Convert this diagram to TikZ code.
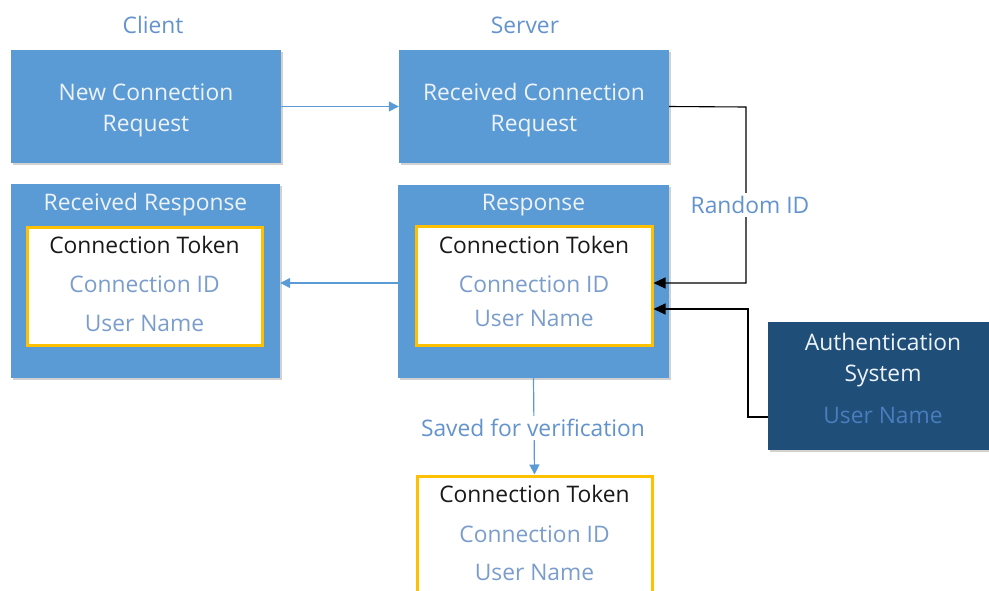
\documentclass[tikz,border=0pt]{standalone}
\usepackage{fontspec}
\setmainfont{Open Sans}
\usetikzlibrary{arrows.meta,shadows}
\definecolor{boxblue}{HTML}{5B9BD5}
\definecolor{darkblue}{HTML}{1F4E79}
\definecolor{tokyellow}{HTML}{FFC000}
\definecolor{lbltext}{HTML}{6393CC}
\definecolor{idtext}{HTML}{7A9DCC}
\definecolor{authtext}{HTML}{4A7DBE}
\definecolor{boxtext}{HTML}{EEF3FA}
\tikzset{
  bluebox/.style={rectangle, fill=boxblue, draw=none, inner sep=0pt,
    drop shadow={shadow xshift=1.5pt, shadow yshift=-1.5pt, opacity=0.18, fill=black}},
  tokbox/.style={rectangle, fill=white, draw=tokyellow, line width=3pt, inner sep=0pt},
  authbox/.style={rectangle, fill=darkblue, draw=none, inner sep=0pt,
    drop shadow={shadow xshift=1.5pt, shadow yshift=-1.5pt, opacity=0.18, fill=black}},
  txt/.style={font=\fontsize{22.8}{31}\selectfont, inner sep=0pt, align=center},
  wtxt/.style={txt, text=boxtext},
  lbl/.style={txt, text=lbltext},
  tok/.style={txt, text=black!90},
  idt/.style={txt, text=idtext},
  blueline/.style={draw=boxblue, line width=1.2pt, -{Triangle[length=10pt,width=10pt]}},
  blackline/.style={draw=black, line width=1.1pt, -{Triangle[length=12pt,width=11pt]}},
}
\begin{document}
\begin{tikzpicture}[x=1pt,y=-1pt]
\useasboundingbox (0,0) rectangle (989,590);

% headers
\node[lbl] (client) at (153,25) {Client};
\node[lbl] (server) at (525,25) {Server};

% top boxes
\node[bluebox, minimum width=270pt, minimum height=113pt] (newreq) at (146,106.5) {};
\node[wtxt] (newreqt) at (146,110.5) {New Connection\\Request};
\node[bluebox, minimum width=270pt, minimum height=113pt] (recreq) at (534,106.5) {};
\node[wtxt] (recreqt) at (534,110.5) {Received Connection\\Request};

% received response
\node[bluebox, minimum width=269pt, minimum height=194pt] (recresp) at (145.5,281) {};
\node[wtxt] (recrespt) at (145.5,205) {Received Response};
\node[tokbox, minimum width=235pt, minimum height=118pt] (tok1) at (144.5,286) {};
\node[tok] (tok1a) at (144.5,245) {Connection Token};
\node[idt] (tok1b) at (144.5,284) {Connection ID};
\node[idt] (tok1c) at (144.5,323) {User Name};

% response
\node[bluebox, minimum width=271pt, minimum height=193pt] (resp) at (533.5,281.5) {};
\node[wtxt] (respt) at (533.5,205) {Response};
\node[tokbox, minimum width=236pt, minimum height=119pt] (tok2) at (534,285.5) {};
\node[tok] (tok2a) at (534,245) {Connection Token};
\node[idt] (tok2b) at (534,284) {Connection ID};
\node[idt] (tok2c) at (534,318) {User Name};

% saved token
\node[tokbox, minimum width=235pt, minimum height=140pt] (tok3) at (534.5,546) {};
\node[tok] (tok3a) at (534.5,494) {Connection Token};
\node[idt] (tok3b) at (534.5,534) {Connection ID};
\node[idt] (tok3c) at (534.5,572) {User Name};

% authentication system
\node[authbox, minimum width=230pt, minimum height=128pt] (auth) at (883,386) {};
\node[wtxt] (autht) at (883,360) {Authentication\\System};
\node[txt, text=authtext] (authu) at (883,415) {User Name};

% connectors
\draw[blueline] (resp.west |- 0,283) coordinate (rl) -- (recresp.east |- rl);
\draw[blueline] (newreq.east) -- (recreq.west);
\coordinate (ridcorner) at (746,107);
\draw[blackline] (recreq.east) -- (ridcorner) -- (746,283) -- (tok2.east |- 0,283);
\node[lbl, fill=white, inner sep=3pt] (rid) at (750,205) {Random ID};
\coordinate (authcorner) at (748,417);
\draw[blackline] (auth.west |- authcorner) -- (authcorner) -- (748,309) -- (tok2.east |- 0,309);
\draw[blueline] (resp.south) -- (tok3.north);
\node[lbl, fill=white, inner sep=3pt] (saved) at (533,428) {Saved for verification};
\end{tikzpicture}
\end{document}
